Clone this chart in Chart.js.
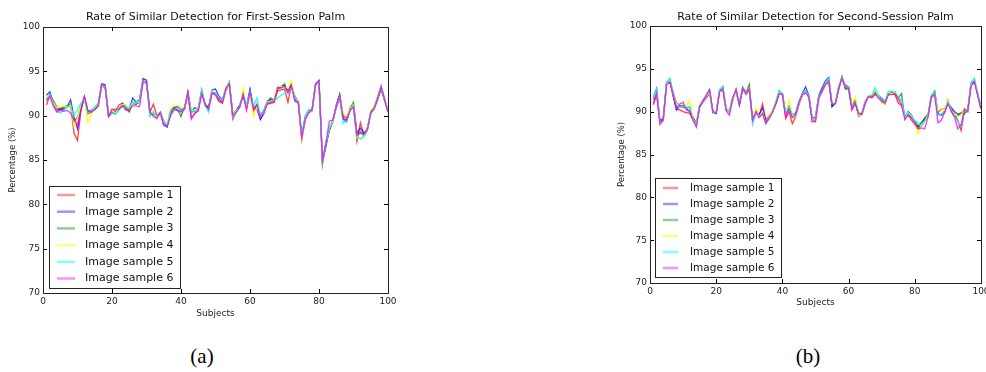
<!DOCTYPE html>
<html>
<head>
<meta charset="utf-8">
<script src="https://cdn.jsdelivr.net/npm/chart.js@4.4.1/dist/chart.umd.min.js"></script>
<style>
    html, body { margin: 0; padding: 0; background: #fff; width: 986px; height: 372px; overflow: hidden; }
    .wrap { position: absolute; top: 0; }
    .caption { position: absolute; top: 344px; width: 60px; text-align: center; font-family: 'Liberation Serif', serif; font-size: 21px; line-height: 24px; color: #000; }
</style>
</head>
<body>
<div class="wrap" style="left:0px;width:400px;height:330px;"><canvas id="first-chart"></canvas></div>
<div class="wrap" style="left:590px;width:410px;height:320px;"><canvas id="second-chart"></canvas></div>
<div class="caption" style="left:172px;">(a)</div>
<div class="caption" style="left:778px;">(b)</div>
<script>
const subjects = [1, 2, 3, 4, 5, 6, 7, 8, 9, 10, 11, 12, 13, 14, 15, 16, 17, 18, 19, 20,
    21, 22, 23, 24, 25, 26, 27, 28, 29, 30, 31, 32, 33, 34, 35, 36, 37, 38, 39, 40,
    41, 42, 43, 44, 45, 46, 47, 48, 49, 50, 51, 52, 53, 54, 55, 56, 57, 58, 59, 60,
    61, 62, 63, 64, 65, 66, 67, 68, 69, 70, 71, 72, 73, 74, 75, 76, 77, 78, 79, 80,
    81, 82, 83, 84, 85, 86, 87, 88, 89, 90, 91, 92, 93, 94, 95, 96, 97, 98, 99, 100];

const xTicks = [0, 20, 40, 60, 80, 100];
const yTicks = [70, 75, 80, 85, 90, 95, 100];

const sampleLabels = ['Image sample 1', 'Image sample 2', 'Image sample 3', 'Image sample 4', 'Image sample 5', 'Image sample 6'];
const sampleColors = ['rgba(255,0,0,0.75)', 'rgba(0,0,255,0.75)', 'rgba(0,128,0,0.75)', 'rgba(255,255,0,0.9)', 'rgba(0,255,255,0.85)', 'rgba(255,0,255,0.8)'];

// first session palm
const firstS1 = [91.2, 92.3, 91.3, 90.9, 90.6, 90.9, 91.1, 91.2, 88.0, 87.2,
    90.6, 92.1, 90.2, 90.4, 90.7, 91.1, 93.3, 93.2, 90.1, 90.7,
    90.5, 91.2, 91.4, 90.9, 90.5, 91.4, 91.3, 91.5, 93.8, 93.6,
    90.4, 91.3, 90.0, 90.4, 89.3, 88.9, 90.3, 90.7, 90.6, 90.5,
    90.9, 92.2, 89.8, 90.2, 90.7, 92.6, 91.1, 90.9, 92.6, 92.3,
    91.6, 91.4, 92.8, 93.6, 89.6, 90.4, 91.1, 92.2, 90.9, 92.6,
    90.5, 91.3, 89.6, 90.4, 91.3, 91.4, 91.5, 92.8, 92.9, 93.0,
    91.5, 93.5, 91.8, 91.4, 87.3, 89.5, 90.4, 90.5, 93.4, 93.8,
    84.9, 86.9, 88.3, 89.3, 91.2, 92.4, 90.0, 89.7, 90.8, 91.0,
    87.1, 89.2, 87.9, 88.6, 90.2, 90.8, 91.8, 93.0, 91.7, 90.4];
const firstS2 = [92.3, 92.7, 91.3, 90.6, 90.8, 90.7, 91.0, 91.8, 89.8, 88.5,
    90.9, 92.0, 90.4, 90.6, 90.8, 91.3, 93.6, 93.5, 90.0, 90.4,
    90.4, 90.7, 91.4, 91.1, 90.7, 92.0, 91.5, 91.8, 94.2, 94.0,
    90.1, 90.2, 89.8, 90.2, 89.0, 88.7, 90.6, 90.9, 91.0, 90.7,
    90.7, 92.7, 90.4, 90.9, 90.7, 92.7, 91.3, 90.9, 92.9, 93.0,
    92.2, 91.8, 93.1, 93.8, 90.2, 90.6, 91.2, 92.3, 91.1, 93.0,
    90.9, 90.7, 89.6, 90.2, 91.6, 91.8, 91.7, 93.1, 93.3, 93.4,
    92.8, 93.5, 92.2, 91.6, 87.7, 89.7, 90.4, 90.7, 93.6, 93.9,
    84.9, 86.5, 88.4, 89.4, 90.9, 92.0, 89.6, 89.5, 90.6, 91.1,
    88.0, 88.6, 88.0, 88.4, 90.3, 90.9, 92.1, 93.3, 91.9, 90.5];
const firstS3 = [91.9, 92.4, 91.7, 91.0, 90.8, 91.0, 91.1, 91.3, 89.4, 89.8,
    91.2, 92.1, 90.6, 90.5, 90.7, 91.2, 93.4, 93.3, 89.9, 90.3,
    90.2, 90.7, 91.2, 90.8, 90.4, 91.4, 91.3, 91.8, 93.9, 93.8,
    90.3, 90.2, 89.7, 90.3, 89.4, 88.9, 90.4, 90.9, 90.7, 89.9,
    91.0, 92.4, 90.4, 90.5, 90.9, 92.9, 91.2, 90.9, 92.6, 92.5,
    91.8, 91.5, 93.0, 93.8, 90.0, 90.6, 91.0, 92.6, 90.8, 92.9,
    90.8, 91.2, 90.1, 90.6, 91.6, 92.0, 91.7, 93.0, 93.2, 93.6,
    92.6, 93.5, 91.9, 91.5, 87.6, 89.9, 90.6, 90.7, 93.4, 93.9,
    84.5, 86.8, 88.5, 89.5, 91.1, 92.4, 89.6, 89.3, 90.8, 91.5,
    87.8, 88.2, 87.7, 88.4, 90.5, 91.0, 92.0, 93.0, 91.8, 90.5];
const firstS4 = [92.0, 92.3, 91.4, 90.9, 91.0, 91.1, 90.9, 91.2, 88.8, 89.6,
    91.3, 91.9, 89.2, 90.2, 90.9, 91.3, 93.3, 93.4, 90.2, 90.6,
    90.3, 90.9, 91.3, 91.2, 90.7, 91.4, 91.5, 91.5, 93.9, 93.7,
    90.0, 90.4, 89.7, 90.1, 89.3, 89.1, 90.8, 91.2, 91.2, 90.9,
    90.9, 92.3, 90.6, 90.6, 90.9, 92.7, 91.0, 90.6, 92.8, 92.4,
    92.0, 91.7, 93.2, 93.8, 90.1, 90.6, 90.9, 93.1, 90.9, 92.5,
    89.9, 91.0, 89.9, 90.3, 91.6, 91.5, 91.8, 93.3, 93.3, 93.1,
    93.2, 93.9, 92.1, 91.6, 87.2, 89.6, 90.5, 90.5, 93.3, 93.8,
    84.8, 86.9, 88.6, 89.4, 91.0, 92.1, 90.2, 90.0, 90.7, 91.2,
    87.5, 87.5, 87.7, 88.5, 90.6, 91.0, 92.2, 93.3, 91.9, 90.6];
const firstS5 = [91.8, 92.4, 91.2, 90.5, 90.3, 90.6, 91.1, 91.0, 90.0, 90.7,
    91.4, 91.8, 90.3, 90.6, 91.0, 91.4, 93.5, 93.3, 90.1, 90.3,
    90.2, 90.6, 91.0, 91.0, 90.8, 91.6, 91.4, 91.7, 93.9, 93.7,
    89.9, 90.5, 89.9, 90.4, 89.3, 88.9, 90.6, 90.7, 90.9, 90.6,
    90.7, 92.4, 90.3, 90.6, 90.6, 92.9, 91.2, 90.4, 92.7, 92.6,
    92.1, 91.6, 92.9, 93.7, 89.8, 90.4, 91.0, 92.4, 91.2, 92.7,
    91.0, 92.0, 90.0, 90.7, 91.4, 91.6, 91.7, 92.0, 92.3, 92.5,
    92.8, 93.2, 92.0, 91.6, 87.8, 89.9, 90.7, 90.7, 93.5, 93.8,
    85.0, 86.9, 88.6, 89.3, 91.0, 92.1, 89.1, 89.5, 90.5, 91.1,
    87.6, 87.4, 87.6, 88.3, 90.2, 90.9, 91.9, 93.2, 91.8, 90.4];
const firstS6 = [91.7, 92.2, 91.1, 90.4, 90.6, 90.5, 90.6, 90.3, 89.5, 89.0,
    90.6, 92.2, 90.6, 90.4, 90.7, 91.1, 93.5, 93.4, 89.9, 90.7,
    90.7, 90.8, 91.1, 90.6, 90.7, 91.1, 91.1, 91.0, 93.9, 93.8,
    90.4, 89.9, 89.7, 90.4, 88.9, 88.8, 90.0, 90.7, 90.6, 90.4,
    90.7, 92.6, 89.6, 90.3, 90.5, 92.5, 91.2, 90.7, 92.6, 92.4,
    91.9, 91.5, 93.1, 93.6, 90.0, 90.4, 90.9, 92.4, 90.6, 92.7,
    90.7, 91.2, 89.9, 90.3, 91.4, 91.5, 91.6, 93.2, 93.1, 93.3,
    92.6, 93.4, 91.6, 91.5, 87.4, 89.6, 90.4, 90.6, 93.5, 94.0,
    84.9, 86.9, 89.4, 89.5, 91.0, 92.2, 89.7, 89.5, 90.6, 91.0,
    87.8, 88.0, 87.9, 88.4, 90.4, 90.8, 92.0, 93.3, 91.9, 90.4];

// second session palm
const secondS1 = [90.8, 92.0, 88.9, 89.1, 93.2, 93.5, 91.8, 90.3, 90.2, 90.0,
    89.9, 89.8, 89.0, 88.6, 90.6, 91.1, 91.6, 92.1, 90.1, 89.8,
    92.4, 92.7, 90.4, 90.0, 91.3, 92.6, 90.8, 92.7, 92.0, 92.5,
    89.0, 90.2, 89.6, 90.9, 89.0, 89.5, 90.1, 90.9, 92.1, 92.1,
    89.2, 90.0, 88.6, 89.4, 90.8, 91.9, 92.2, 91.8, 88.9, 88.8,
    91.6, 92.3, 93.1, 93.5, 90.6, 91.0, 92.6, 94.0, 92.8, 92.6,
    90.2, 91.0, 89.7, 89.8, 91.2, 91.8, 91.6, 92.0, 91.9, 91.6,
    91.2, 92.0, 92.1, 92.0, 91.0, 90.7, 89.5, 89.6, 89.0, 88.5,
    88.0, 88.4, 89.1, 89.5, 91.6, 92.0, 89.9, 90.3, 90.3, 91.0,
    90.4, 89.7, 89.0, 87.8, 90.1, 90.1, 93.1, 93.6, 92.1, 90.4];
const secondS2 = [91.7, 92.7, 88.9, 89.2, 93.4, 93.6, 91.9, 90.2, 90.7, 90.5,
    90.4, 90.0, 89.3, 88.4, 90.6, 91.3, 91.9, 92.5, 90.0, 89.9,
    92.4, 92.9, 90.3, 90.1, 91.6, 92.3, 90.9, 92.6, 92.3, 92.6,
    89.0, 89.8, 89.7, 90.4, 88.8, 89.2, 90.0, 91.0, 92.2, 92.1,
    89.7, 90.6, 89.6, 89.8, 91.2, 92.1, 92.9, 91.9, 89.2, 89.4,
    91.9, 92.8, 93.6, 94.0, 90.6, 91.0, 92.9, 93.9, 93.1, 92.9,
    90.6, 91.2, 89.5, 89.6, 90.9, 91.8, 91.9, 92.4, 91.7, 91.5,
    91.0, 92.2, 92.3, 92.1, 91.7, 91.2, 89.3, 90.0, 89.6, 88.7,
    88.3, 88.7, 89.2, 89.5, 91.8, 92.3, 89.7, 89.6, 89.9, 91.1,
    90.5, 90.0, 89.7, 89.8, 90.3, 90.2, 93.2, 93.6, 92.0, 90.4];
const secondS3 = [91.4, 92.4, 88.8, 89.0, 93.4, 93.8, 92.2, 91.0, 90.8, 90.7,
    90.5, 90.5, 89.3, 88.7, 90.8, 91.3, 91.7, 92.3, 90.0, 89.8,
    92.4, 92.8, 90.2, 90.0, 91.6, 92.4, 90.8, 92.8, 92.2, 93.2,
    88.9, 90.0, 89.4, 89.8, 88.7, 89.2, 90.1, 91.0, 92.4, 92.0,
    89.7, 90.6, 89.4, 89.5, 91.0, 92.0, 92.4, 91.7, 89.1, 89.3,
    91.8, 92.6, 93.3, 93.8, 90.8, 91.0, 92.7, 94.1, 92.6, 92.8,
    90.7, 91.4, 89.8, 89.7, 91.0, 91.8, 91.7, 92.3, 91.8, 91.3,
    90.9, 92.2, 92.2, 92.3, 91.6, 92.1, 89.1, 89.8, 89.3, 88.9,
    88.2, 88.6, 89.3, 89.7, 91.8, 92.4, 89.8, 89.6, 90.1, 91.3,
    90.0, 89.4, 89.5, 89.9, 89.7, 90.2, 93.4, 93.8, 92.0, 90.6];
const secondS4 = [91.6, 92.5, 88.7, 88.8, 93.2, 93.7, 92.0, 90.9, 90.8, 90.9,
    90.6, 91.3, 89.1, 88.5, 90.9, 91.2, 91.8, 92.2, 89.9, 90.0,
    92.6, 92.8, 90.4, 90.1, 91.4, 92.3, 91.0, 92.9, 92.1, 92.7,
    88.7, 90.4, 89.4, 90.0, 88.5, 89.4, 90.2, 91.2, 92.3, 91.9,
    89.9, 91.4, 89.5, 89.4, 90.9, 91.9, 92.3, 91.7, 89.0, 89.3,
    91.7, 92.4, 93.1, 93.7, 91.0, 91.1, 92.8, 93.9, 93.0, 92.7,
    90.8, 91.7, 89.6, 89.5, 91.1, 91.9, 91.8, 92.5, 91.8, 91.0,
    90.9, 92.3, 92.1, 92.3, 91.8, 91.2, 89.2, 89.9, 89.5, 88.6,
    87.4, 88.5, 88.9, 89.6, 91.6, 92.1, 90.1, 90.4, 90.2, 91.4,
    90.2, 89.7, 89.4, 89.6, 90.5, 90.0, 93.3, 93.8, 92.1, 90.6];
const secondS5 = [91.6, 92.6, 88.7, 89.0, 93.4, 93.9, 92.1, 90.7, 90.5, 90.6,
    90.4, 90.6, 89.1, 88.4, 90.7, 91.1, 91.9, 92.4, 89.8, 89.9,
    92.6, 92.9, 90.2, 89.9, 91.7, 92.3, 91.0, 92.9, 92.3, 92.6,
    88.5, 89.9, 89.4, 89.8, 88.6, 89.2, 89.9, 91.1, 92.5, 92.0,
    89.8, 90.6, 89.7, 89.6, 91.1, 92.1, 92.4, 91.9, 89.2, 89.0,
    91.9, 92.4, 93.4, 93.9, 90.9, 90.9, 92.8, 94.0, 92.9, 92.9,
    90.5, 91.1, 89.9, 89.8, 91.0, 91.7, 91.9, 92.8, 91.9, 91.5,
    91.1, 92.4, 92.4, 92.3, 91.7, 91.4, 89.3, 89.9, 89.4, 89.0,
    88.7, 88.3, 88.8, 89.5, 91.9, 92.3, 89.6, 89.7, 89.9, 91.2,
    90.2, 89.5, 88.8, 88.3, 90.3, 90.0, 93.4, 93.9, 92.0, 90.9];
const secondS6 = [90.9, 92.2, 88.5, 89.0, 93.1, 93.5, 92.0, 90.4, 90.9, 91.1,
    90.2, 90.1, 89.0, 88.2, 90.6, 91.2, 91.9, 92.6, 89.9, 89.8,
    92.3, 92.7, 90.1, 89.6, 91.6, 92.6, 90.8, 92.8, 92.1, 92.7,
    89.0, 90.0, 89.3, 89.8, 88.6, 89.3, 89.9, 90.9, 92.1, 92.0,
    89.4, 90.3, 89.3, 89.6, 91.0, 92.0, 92.2, 91.7, 88.8, 89.0,
    91.6, 92.4, 93.2, 93.6, 90.9, 90.9, 92.7, 93.9, 92.9, 92.7,
    90.3, 91.0, 89.8, 89.7, 91.0, 91.8, 91.7, 92.1, 91.6, 91.2,
    91.0, 92.0, 92.0, 92.1, 91.5, 90.8, 89.1, 89.6, 89.3, 88.6,
    88.0, 88.1, 88.0, 89.4, 91.7, 92.0, 88.7, 89.0, 89.9, 90.9,
    90.1, 89.4, 88.0, 88.5, 90.3, 90.0, 93.0, 93.5, 91.9, 90.3];

const firstSeries = [firstS1, firstS2, firstS3, firstS4, firstS5, firstS6];
const secondSeries = [secondS1, secondS2, secondS3, secondS4, secondS5, secondS6];

const FONT = "'DejaVu Sans', sans-serif";

// inward ticks on all four sides plus the frame
const frameTicks = {
    id: 'frameTicks',
    afterDatasetsDraw(chart) {
        const { ctx, chartArea: a, scales } = chart;
        ctx.save();
        ctx.strokeStyle = '#000';
        ctx.lineWidth = 1;
        ctx.beginPath();
        yTicks.forEach(v => {
            const y = Math.round(scales.y.getPixelForValue(v)) + 0.5;
            ctx.moveTo(a.left, y); ctx.lineTo(a.left + 4, y);
            ctx.moveTo(a.right, y); ctx.lineTo(a.right - 4, y);
        });
        xTicks.forEach(v => {
            const x = Math.round(scales.x.getPixelForValue(v)) + 0.5;
            ctx.moveTo(x, a.bottom); ctx.lineTo(x, a.bottom - 4);
            ctx.moveTo(x, a.top); ctx.lineTo(x, a.top + 4);
        });
        ctx.stroke();
        ctx.strokeStyle = '#222';
        ctx.strokeRect(Math.round(a.left) + 0.5, Math.round(a.top) + 0.5, Math.round(a.right - a.left), Math.round(a.bottom - a.top));
        ctx.restore();
    }
};

// legend box inside the lower-left corner of the plot
const innerLegend = {
    id: 'innerLegend',
    afterDatasetsDraw(chart, args, opts) {
        const { ctx, chartArea: a } = chart;
        const sets = chart.data.datasets;
        const left = a.left + opts.dx;
        const bottom = a.bottom - opts.dy;
        const top = bottom - opts.height;
        ctx.save();
        ctx.fillStyle = '#fff';
        ctx.fillRect(left, top, opts.width, opts.height);
        ctx.strokeStyle = '#222';
        ctx.lineWidth = 1;
        ctx.strokeRect(Math.round(left) + 0.5, Math.round(top) + 0.5, opts.width, opts.height);
        ctx.font = opts.fontSize + 'px ' + FONT;
        ctx.textBaseline = 'middle';
        sets.forEach((ds, i) => {
            const y = top + opts.first + i * opts.step;
            ctx.strokeStyle = ds.borderColor;
            ctx.lineWidth = 2.5;
            ctx.globalAlpha = 0.55;
            ctx.beginPath();
            ctx.moveTo(left + opts.lineStart, y);
            ctx.lineTo(left + opts.lineEnd, y);
            ctx.stroke();
            ctx.globalAlpha = 1;
            ctx.fillStyle = '#111';
            ctx.fillText(ds.label, left + opts.textStart, y);
        });
        ctx.restore();
    }
};

const makeChart = (id, title, series, p) => {
    // later samples drawn on top, as in the original figure
    const datasets = series.map((vals, i) => ({
        label: sampleLabels[i],
        data: subjects.map((s, j) => ({ x: s, y: vals[j] })),
        borderColor: sampleColors[i],
        backgroundColor: 'transparent',
        borderWidth: 1.3,
        pointRadius: 0,
        tension: 0,
        order: series.length - i,
    }));
    return new Chart(document.getElementById(id).getContext('2d'), {
        type: 'line',
        data: { datasets },
        options: {
            responsive: true,
            maintainAspectRatio: false,
            animation: false,
            layout: { padding: { left: 0, right: p.padRight, top: 0, bottom: 0 } },
            plugins: {
                legend: { display: false },
                tooltip: { enabled: false },
                title: {
                    display: true,
                    text: title,
                    fullSize: false,
                    color: '#111',
                    font: { family: FONT, size: 11, weight: 'normal' },
                    padding: { top: 11, bottom: p.titleBottom },
                },
                innerLegend: p.legend,
            },
            scales: {
                x: {
                    type: 'linear',
                    min: 0,
                    max: 100,
                    afterBuildTicks: (s) => { s.ticks = xTicks.map(v => ({ value: v })); },
                    afterFit: (s) => { s.height = p.xHeight; },
                    grid: { display: false, drawTicks: false },
                    border: { display: false },
                    ticks: { color: '#222', padding: 3, maxRotation: 0, font: { family: FONT, size: 9 } },
                    title: { display: true, text: 'Subjects', color: '#222', font: { family: FONT, size: 9 }, padding: { bottom: p.xTitlePad } },
                },
                y: {
                    min: 70,
                    max: 100,
                    afterBuildTicks: (s) => { s.ticks = yTicks.map(v => ({ value: v })); },
                    afterFit: (s) => { s.width = p.yWidth; },
                    grid: { display: false, drawTicks: false },
                    border: { display: false },
                    ticks: { color: '#222', padding: 3, font: { family: FONT, size: 9 } },
                    title: { display: true, text: 'Percentage (%)', color: '#222', font: { family: FONT, size: 8.5 }, padding: { top: p.yTitlePad } },
                },
            },
        },
        plugins: [frameTicks, innerLegend],
    });
};

makeChart('first-chart', 'Rate of Similar Detection for First-Session Palm', firstSeries, {
    padRight: 12, titleBottom: 2.8, xHeight: 37, xTitlePad: 11, yWidth: 43, yTitlePad: 8,
    legend: { dx: 6, dy: 5, width: 131, height: 102, first: 9, step: 16.7, lineStart: 8, lineEnd: 26, textStart: 36, fontSize: 11 },
});

makeChart('second-chart', 'Rate of Similar Detection for Second-Session Palm', secondSeries, {
    padRight: 19, titleBottom: 1.8, xHeight: 37, xTitlePad: 12, yWidth: 60, yTitlePad: 27,
    legend: { dx: 5, dy: 6, width: 126, height: 99, first: 10, step: 16, lineStart: 8, lineEnd: 23, textStart: 35, fontSize: 10.5 },
});
</script>
</body>
</html>
